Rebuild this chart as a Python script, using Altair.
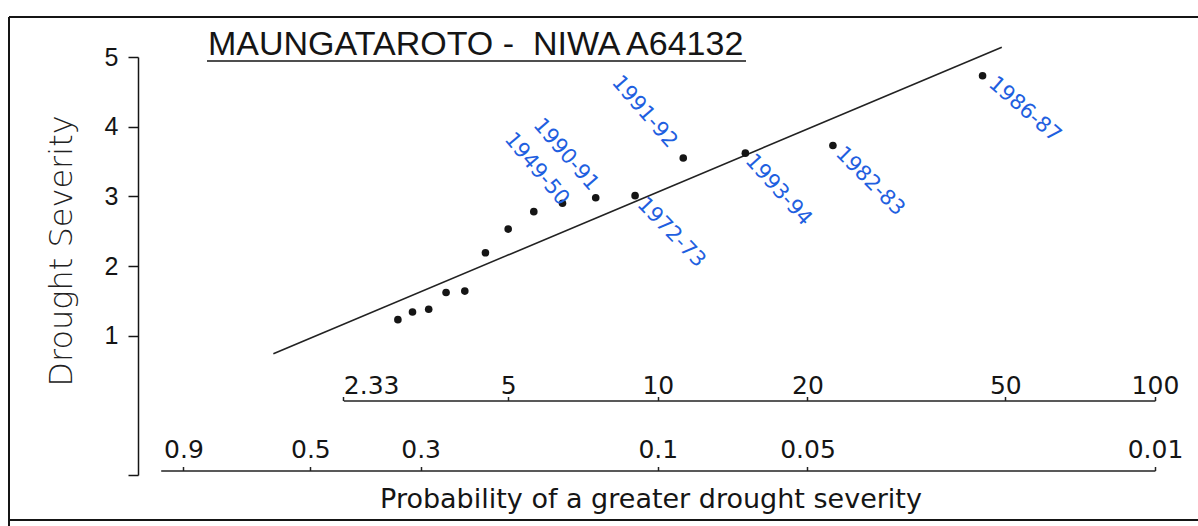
import altair as alt
import pandas as pd
import numpy as np

# ---------------- data ----------------
return_period = [45.0, 22.5, 15.0, 11.25, 9.0, 7.5, 6.43, 5.63, 5.0, 4.5, 4.09, 3.75, 3.46, 3.21, 3.0]
severity = [4.73, 3.73, 3.62, 3.55, 3.01, 2.98, 2.90, 2.78, 2.53, 2.19, 1.64, 1.62, 1.38, 1.34, 1.23]
season = ["1986-87", "1982-83", "1993-94", "1991-92", "1972-73", "1990-91", "1949-50",
          "", "", "", "", "", "", "", ""]

fit_return_period = [1.685, 49.2]
fit_severity = [0.74, 5.14]

return_ticks = [2.33, 5, 10, 20, 50, 100]
prob_ticks = [0.9, 0.5, 0.3, 0.1, 0.05, 0.01]
severity_ticks = [1, 2, 3, 4, 5]

title_text = "MAUNGATAROTO - \u00a0NIWA A64132"
y_title = "Drought Severity"
x_title = "Probability of a greater drought severity"

# ---------------- layout / style ----------------
W, H = 1017, 418
X0, K = 22.7, 215.9           # pixel = X0 + K*ln(T) inside the plot
def px(t):
    return float(X0 + K * np.log(t))

# annotation offsets (screen px from point to label centre) and angles
label_style = {
    "1986-87": (42, 34, 41),
    "1982-83": (37, 36, 45),
    "1993-94": (33, 37, 48),
    "1991-92": (-39, -46, 49),
    "1990-91": (-30, -43, 49),
    "1949-50": (-26, -34, 50),
    "1972-73": (36, 37, 46),
}
BLUE = "#1f5fe0"
INK = "#151515"

pts = pd.DataFrame({"T": return_period, "sev": severity, "season": season})
fit = pd.DataFrame({"T": fit_return_period, "sev": fit_severity})
one = pd.DataFrame({"a": [0]})

xs = alt.Scale(type="log", domain=[1, 100], range=[px(1), px(100)], nice=False)
ys = alt.Scale(domain=[-1, 5], nice=False, zero=False)
yaxis = alt.Axis(values=[-1] + severity_ticks,
                 labelExpr="datum.value < 0 ? '' : datum.label",
                 title=None, grid=False, tickSize=10, tickWidth=1.5, tickColor=INK,
                 domainColor=INK, domainWidth=1.5, labelFont="Liberation Sans",
                 labelFontSize=25, labelColor=INK, labelPadding=10)

X = alt.X("T:Q", scale=xs, axis=None)
Y = alt.Y("sev:Q", scale=ys, axis=yaxis)

# outer frame: top, left and bottom edges (the right edge lies outside the picture)
frame_top = alt.Chart(one).mark_rule(color=INK, strokeWidth=2).encode(
    x=alt.value(-129), x2=alt.value(1070), y=alt.value(-40))
frame_left = alt.Chart(one).mark_rule(color=INK, strokeWidth=2).encode(
    x=alt.value(-129), y=alt.value(-40), y2=alt.value(475))
frame_bottom = alt.Chart(one).mark_rule(color=INK, strokeWidth=2).encode(
    x=alt.value(-129), x2=alt.value(1070), y=alt.value(463))

title = alt.Chart(pd.DataFrame({"t": [title_text]})).mark_text(
    align="left", baseline="alphabetic", font="Liberation Sans", fontSize=34, color=INK
).encode(x=alt.value(70), y=alt.value(-2), text="t:N")

underline = alt.Chart(one).mark_rule(color=INK, strokeWidth=1.6).encode(
    x=alt.value(69), x2=alt.value(608), y=alt.value(4))

ytitle = alt.Chart(pd.DataFrame({"t": [y_title]})).mark_text(
    angle=270, align="center", baseline="alphabetic", font="DejaVu Sans",
    fontSize=32, fontWeight=300, color="#222"
).encode(x=alt.value(-66), y=alt.value(194), text="t:N")

xtitle = alt.Chart(pd.DataFrame({"t": [x_title]})).mark_text(
    align="center", baseline="alphabetic", font="DejaVu Sans", fontSize=27, color=INK
).encode(x=alt.value(513), y=alt.value(451), text="t:N")

fit_line = alt.Chart(fit).mark_line(color="#222", strokeWidth=1.6).encode(x=X, y=Y)
points = alt.Chart(pts).mark_circle(size=58, color=INK, opacity=1).encode(x=X, y=Y)

labels = []
for name, (ox, oy, ang) in label_style.items():
    th = np.deg2rad(ang)
    dx = ox * np.cos(th) + oy * np.sin(th)
    dy = -ox * np.sin(th) + oy * np.cos(th)
    labels.append(
        alt.Chart(pts[pts["season"] == name]).mark_text(
            angle=ang, dx=float(dx), dy=float(dy), align="center", baseline="middle",
            font="DejaVu Sans", fontSize=21, color=BLUE
        ).encode(x=X, y=Y, text="season:N")
    )

inner = alt.layer(frame_top, frame_left, frame_bottom, title, underline, ytitle, xtitle,
                  fit_line, points, *labels)

def top_axis(offset, pad, align):
    return alt.Axis(orient="top", offset=offset, title=None, grid=False,
                    tickSize=4, tickWidth=1.5, tickColor="#222", domainColor="#222",
                    domainWidth=1.5, labelFont="DejaVu Sans", labelFontSize=25,
                    labelColor=INK, labelPadding=pad, labelBaseline="alphabetic",
                    labelFlush=False, labelOverlap=False, labelAlign=align,
                    labelExpr="'' + datum.value")

ret_axis = top_axis(-343.5, 3, {"condition": {"test": "datum.value < 3", "value": "left"},
                                "value": "center"})
ret_axis.values = return_ticks
prob_axis = top_axis(-413.5, 9, "center")
prob_axis.values = prob_ticks

ret_layer = alt.Chart(pd.DataFrame({"T": return_ticks})).mark_point(opacity=0).encode(
    x=alt.X("T:Q", scale=alt.Scale(type="log", domain=[2.33, 100],
                                   range=[px(2.33), px(100)], nice=False), axis=ret_axis))
prob_layer = alt.Chart(pd.DataFrame({"P": prob_ticks})).mark_point(opacity=0).encode(
    x=alt.X("P:Q", scale=alt.Scale(type="log", domain=[1, 0.01],
                                   range=[px(1), px(100)], nice=False), axis=prob_axis))

chart = alt.layer(inner, ret_layer, prob_layer).resolve_scale(x="independent").properties(
    width=W, height=H,
    autosize=alt.AutoSizeParams(type="none"),
    padding={"left": 138, "top": 57, "right": 43, "bottom": 51},
    background="white",
).configure_view(strokeWidth=0)

chart.save("out.html", embed_options={"renderer": "svg", "actions": False})
